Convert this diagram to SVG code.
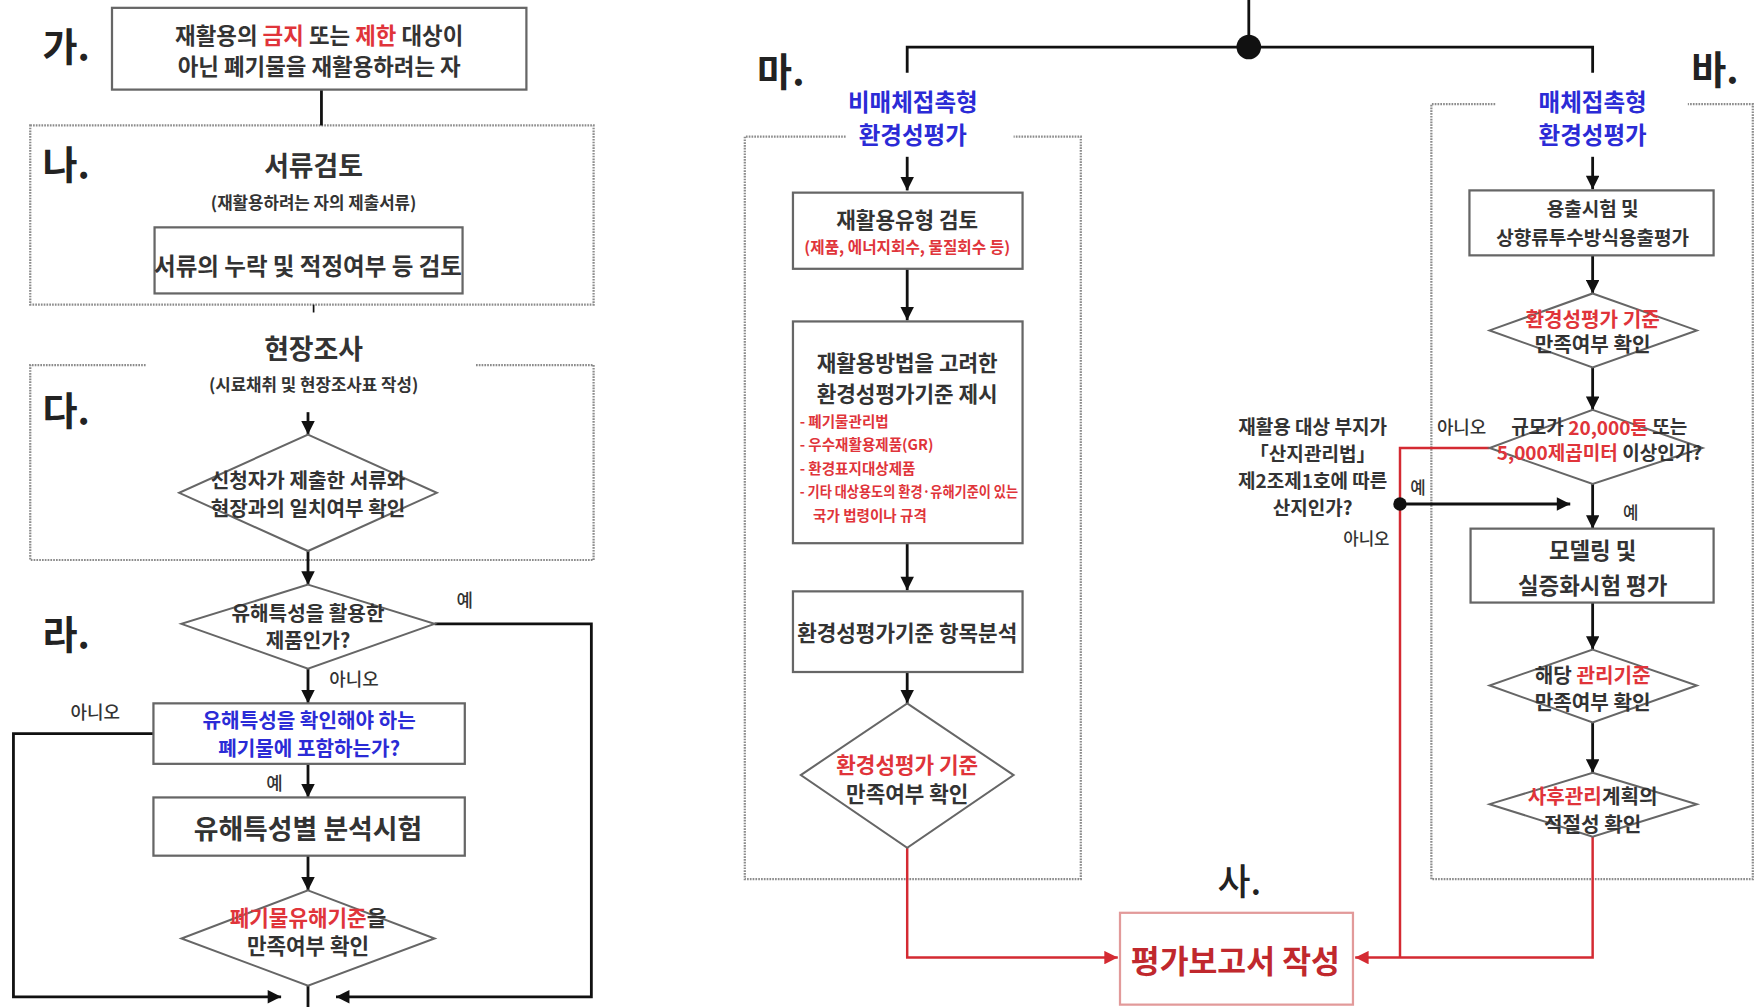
<svg xmlns="http://www.w3.org/2000/svg" width="1756" height="1007" viewBox="0 0 1756 1007">
<style>
.box{fill:#fff;stroke:#666;stroke-width:2}
.dia{fill:#fff;stroke:#666;stroke-width:1.8}
.frame{fill:none;stroke:#8c8c8c;stroke-width:2;stroke-dasharray:1.5 1}
.ln{fill:none;stroke:#111;stroke-width:2.5}
.rl{fill:none;stroke:#d42a32;stroke-width:2.2}
.t{font-family:"Noto Sans CJK KR","Noto Sans",sans-serif;fill:#333;text-anchor:middle;dominant-baseline:central;font-weight:700}
.s{font-weight:500}
.r{fill:#e0343a}
.b{fill:#2b2bd6}
.lbl{font-family:"Noto Sans CJK KR","Noto Sans",sans-serif;font-size:34px;font-weight:700;fill:#222;dominant-baseline:central}
</style>
<defs>
<marker id="ah" viewBox="0 0 10 10" refX="10" refY="5" markerWidth="13" markerHeight="12" markerUnits="userSpaceOnUse" orient="auto"><path d="M0,0 L10,5 L0,10 z" fill="#111"/></marker>
<marker id="ahr" viewBox="0 0 10 10" refX="10" refY="5" markerWidth="13" markerHeight="12" markerUnits="userSpaceOnUse" orient="auto"><path d="M0,0 L10,5 L0,10 z" fill="#d42a32"/></marker>
</defs>
<rect width="1756" height="1007" fill="#fff"/>
<g transform="scale(1.12)">
<g id="frames">
<rect class="frame" x="27" y="112" width="503" height="160"/>
<path class="frame" d="M130,326 H27 V500 H530 V326 H425"/>
<path class="frame" d="M755,122 H665 V785 H965 V122 H905"/>
<path class="frame" d="M1335,93 H1278 V785 H1565 V93 H1507"/>
</g>
<g id="labels">
<text class="lbl" x="38" y="40">가.</text>
<text class="lbl" x="38" y="145">나.</text>
<text class="lbl" x="38" y="365">다.</text>
<text class="lbl" x="38" y="565">라.</text>
<text class="lbl" x="676" y="62">마.</text>
<text class="lbl" x="1510" y="60">바.</text>
<text class="lbl" x="1087" y="785" style="font-weight:500;font-size:32px">사.</text>
</g>
<g id="connectors">
<path class="ln" d="M287,80 V112"/>
<path class="ln" d="M280,272 V279" style="stroke-width:1.5"/>
<path class="ln" d="M275,368 V388" marker-end="url(#ah)"/>
<path class="ln" d="M275,492 V522" marker-end="url(#ah)"/>
<path class="ln" d="M388,557 H528 V890 H300" marker-end="url(#ah)"/>
<path class="ln" d="M275,597 V628" marker-end="url(#ah)"/>
<path class="ln" d="M137,655 H12 V890 H251" marker-end="url(#ah)"/>
<path class="ln" d="M275,682 V712" marker-end="url(#ah)"/>
<path class="ln" d="M275,764 V795" marker-end="url(#ah)"/>
<path class="ln" d="M275,880 V900"/>
<path class="ln" d="M1115,0 V42"/>
<path class="ln" d="M810,65 V42 H1422 V65"/>
<circle cx="1115" cy="42" r="11" fill="#111"/>
<path class="ln" d="M810,140 V170" marker-end="url(#ah)"/>
<path class="ln" d="M810,240 V286" marker-end="url(#ah)"/>
<path class="ln" d="M810,485 V527" marker-end="url(#ah)"/>
<path class="ln" d="M810,600 V628" marker-end="url(#ah)"/>
<path class="rl" d="M810,757 V855 H998" marker-end="url(#ahr)"/>
<path class="ln" d="M1422,140 V169" marker-end="url(#ah)"/>
<path class="ln" d="M1422,228 V262" marker-end="url(#ah)"/>
<path class="ln" d="M1422,328 V366" marker-end="url(#ah)"/>
<path class="rl" d="M1330,400 H1250 V855"/>
<circle cx="1250" cy="450" r="6" fill="#111"/>
<path class="ln" d="M1250,450 H1402" marker-end="url(#ah)"/>
<path class="ln" d="M1422,432 V472" marker-end="url(#ah)"/>
<path class="ln" d="M1422,538 V580" marker-end="url(#ah)"/>
<path class="ln" d="M1422,645 V690" marker-end="url(#ah)"/>
<path class="rl" d="M1422,747 V855 H1210" marker-end="url(#ahr)"/>
<text class="t s" x="415" y="535" font-size="16">예</text>
<text class="t s" x="316" y="605" font-size="16">아니오</text>
<text class="t s" x="85" y="635" font-size="16">아니오</text>
<text class="t s" x="245" y="698" font-size="16">예</text>
<text class="t s" x="1305" y="380" font-size="16">아니오</text>
<text class="t s" x="1266" y="435" font-size="15">예</text>
<text class="t s" x="1220" y="480" font-size="15">아니오</text>
<text class="t s" x="1456" y="457" font-size="15">예</text>
</g>
<g id="n-ga">
<rect class="box" x="100" y="7" width="370" height="73"/>
<text class="t" x="285" y="30" font-size="20">재활용의 <tspan class="r">금지</tspan> 또는 <tspan class="r">제한</tspan> 대상이</text>
<text class="t" x="285" y="58" font-size="20">아닌 폐기물을 재활용하려는 자</text>
</g>
<g id="n-na">
<text class="t" x="280" y="147" font-size="24">서류검토</text>
<text class="t" x="280" y="180" font-size="15">(재활용하려는 자의 제출서류)</text>
<rect class="box" x="138" y="203" width="275" height="59"/>
<text class="t" x="275" y="237" font-size="21">서류의 누락 및 적정여부 등 검토</text>
</g>
<g id="n-da">
<text class="t" x="280" y="310" font-size="24">현장조사</text>
<text class="t" x="280" y="343" font-size="15">(시료채취 및 현장조사표 작성)</text>
<polygon class="dia" points="275,388 390,440 275,492 160,440"/>
<text class="t" x="275" y="428" font-size="18">신청자가 제출한 서류와</text>
<text class="t" x="275" y="453" font-size="18">현장과의 일치여부 확인</text>
</g>
<g id="n-ra">
<polygon class="dia" points="275,522 388,557 275,597 162,557"/>
<text class="t" x="275" y="547" font-size="18">유해특성을 활용한</text>
<text class="t" x="275" y="571" font-size="18">제품인가?</text>
<rect class="box" x="137" y="628" width="278" height="54"/>
<text class="t b" x="276" y="642" font-size="18">유해특성을 확인해야 하는</text>
<text class="t b" x="276" y="667" font-size="18">폐기물에 포함하는가?</text>
<rect class="box" x="137" y="712" width="278" height="52"/>
<text class="t" x="275" y="739" font-size="24">유해특성별 분석시험</text>
<polygon class="dia" points="275,795 388,838 275,880 162,838"/>
<text class="t" x="275" y="818" font-size="19"><tspan class="r">폐기물유해기준</tspan>을</text>
<text class="t" x="275" y="843" font-size="19">만족여부 확인</text>
</g>
<g id="n-ma">
<text class="t b" x="815" y="90" font-size="21">비매체접촉형</text>
<text class="t b" x="815" y="120" font-size="21">환경성평가</text>
<rect class="box" x="708" y="172" width="205" height="68"/>
<text class="t" x="810" y="195" font-size="19">재활용유형 검토</text>
<text class="t r" x="810" y="220" font-size="14">(제품, 에너지회수, 물질회수 등)</text>
<rect class="box" x="708" y="287" width="205" height="198"/>
<text class="t" x="810" y="323" font-size="19">재활용방법을 고려한</text>
<text class="t" x="810" y="350" font-size="19">환경성평가기준 제시</text>
<text class="t r" x="714" y="375" font-size="13" style="text-anchor:start">- 폐기물관리법</text>
<text class="t r" x="714" y="396" font-size="13" style="text-anchor:start">- 우수재활용제품(GR)</text>
<text class="t r" x="714" y="417" font-size="13" style="text-anchor:start">- 환경표지대상제품</text>
<text class="t r" x="714" y="438" font-size="13" style="text-anchor:start" textLength="195" lengthAdjust="spacingAndGlyphs">- 기타 대상용도의 환경·유해기준이 있는</text>
<text class="t r" x="726" y="459" font-size="13" style="text-anchor:start">국가 법령이나 규격</text>
<rect class="box" x="708" y="528" width="205" height="72"/>
<text class="t" x="810" y="564" font-size="19">환경성평가기준 항목분석</text>
<polygon class="dia" points="810,628 905,692 810,757 715,692"/>
<text class="t r" x="810" y="682" font-size="19">환경성평가 기준</text>
<text class="t" x="810" y="708" font-size="19">만족여부 확인</text>
</g>
<g id="n-sa">
<rect x="1000" y="815" width="208" height="82" fill="#fff" stroke="#e29a9a" stroke-width="2"/>
<text class="t" x="1103" y="857" font-size="28" style="fill:#c0282d">평가보고서 작성</text>
</g>
<g id="n-ba">
<text class="t b" x="1422" y="90" font-size="21">매체접촉형</text>
<text class="t b" x="1422" y="120" font-size="21">환경성평가</text>
<rect class="box" x="1312" y="170" width="218" height="58"/>
<text class="t" x="1422" y="185" font-size="17">용출시험 및</text>
<text class="t" x="1422" y="211" font-size="17">상향류투수방식용출평가</text>
<polygon class="dia" points="1422,262 1515,295 1422,328 1330,295"/>
<text class="t r" x="1422" y="284" font-size="18">환경성평가 기준</text>
<text class="t" x="1422" y="307" font-size="18">만족여부 확인</text>
<polygon class="dia" points="1422,366 1520,400 1422,432 1330,400"/>
<text class="t" x="1428" y="380" font-size="17">규모가 <tspan class="r">20,000톤</tspan> 또는</text>
<text class="t" x="1428" y="403" font-size="17"><tspan class="r">5,000제곱미터</tspan> 이상인가?</text>
<text class="t" x="1172" y="380" font-size="17">재활용 대상 부지가</text>
<text class="t" x="1172" y="404" font-size="17">「산지관리법」</text>
<text class="t" x="1172" y="428" font-size="17">제2조제1호에 따른</text>
<text class="t" x="1172" y="452" font-size="17">산지인가?</text>
<rect class="box" x="1313" y="472" width="217" height="66"/>
<text class="t" x="1422" y="490" font-size="20">모델링 및</text>
<text class="t" x="1422" y="521" font-size="20">실증화시험 평가</text>
<polygon class="dia" points="1422,580 1515,612 1422,645 1330,612"/>
<text class="t" x="1422" y="602" font-size="18">해당 <tspan class="r">관리기준</tspan></text>
<text class="t" x="1422" y="626" font-size="18">만족여부 확인</text>
<polygon class="dia" points="1422,690 1515,718 1422,747 1330,718"/>
<text class="t" x="1422" y="710" font-size="18"><tspan class="r">사후관리</tspan>계획의</text>
<text class="t" x="1422" y="735" font-size="18">적절성 확인</text>
</g>
</g>
</svg>
